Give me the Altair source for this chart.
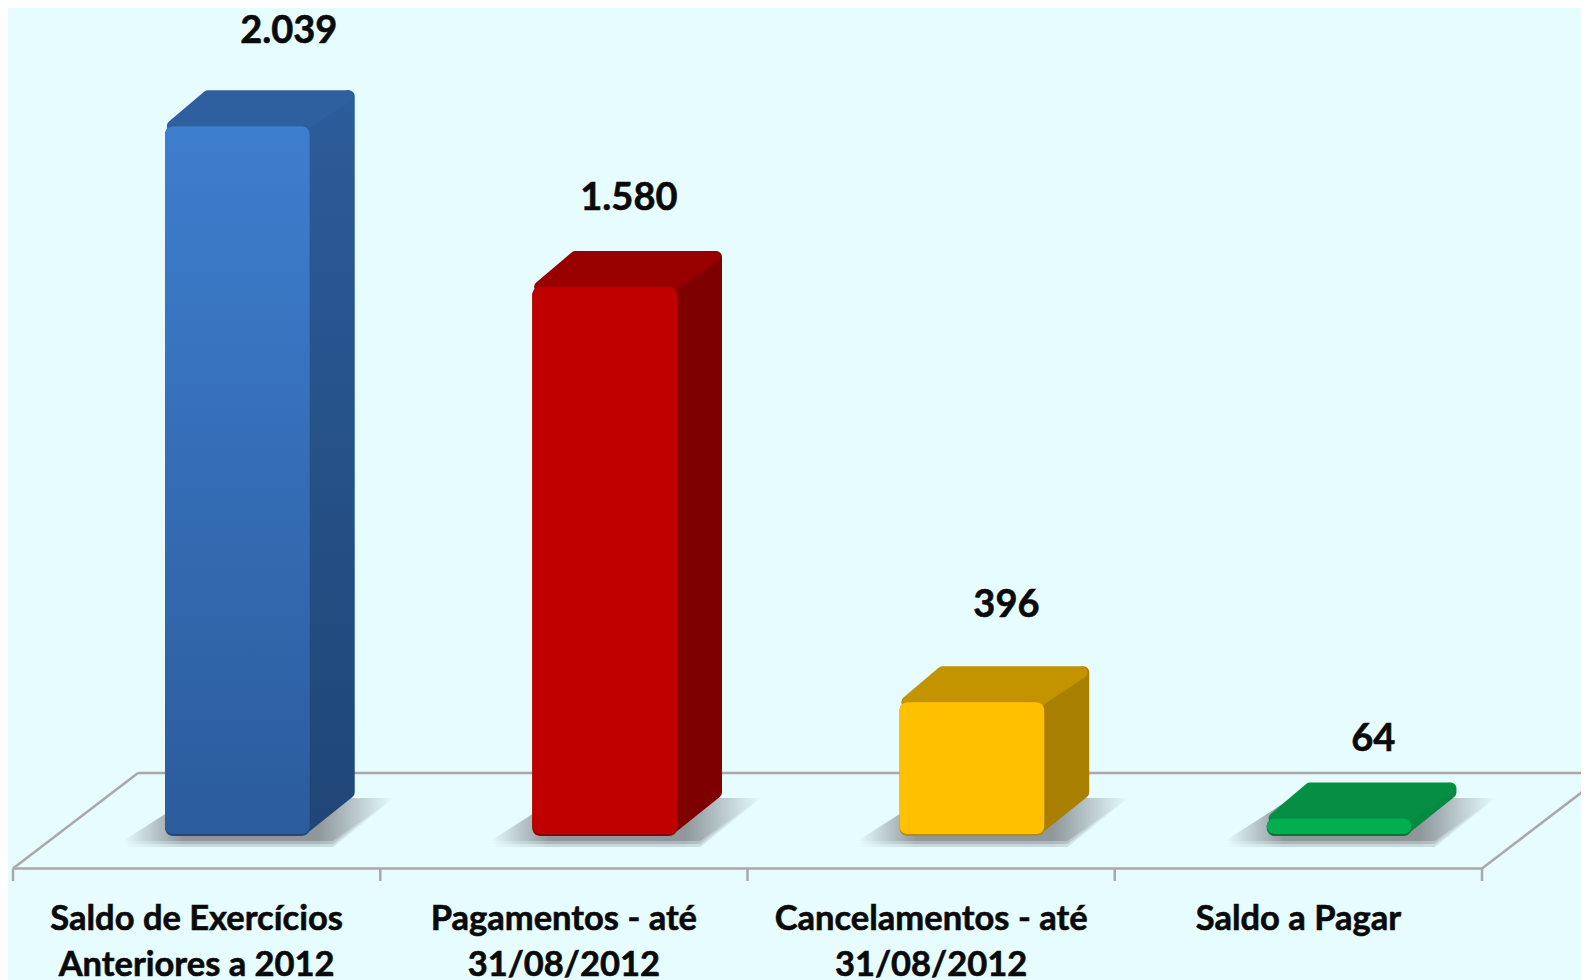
import altair as alt
import pandas as pd

# ---- data ----
categories = ["Saldo de Exercícios\nAnteriores a 2012", "Pagamentos - até\n31/08/2012",
              "Cancelamentos - até\n31/08/2012", "Saldo a Pagar"]
values = [2039, 1580, 396, 64]
value_labels = ["2.039", "1.580", "396", "64"]

# ---- styling ----
BG = "#E6FCFF"
FONT = "Lato"
def grad(c0, c1):
    return alt.LinearGradient(gradient="linear", x1=0, x2=0, y1=0, y2=1, stops=[
        alt.GradientStop(offset=0, color=c0), alt.GradientStop(offset=1, color=c1)])
front_cols = [grad("#3E7ECE", "#2B5C9C"), "#C00000", "#FFC000", "#03AE50"]
edge_cols = ["#1E4A80", "#8E0000", "#B98B00", "#05753A"]
side_cols = [grad("#2C5C9A", "#1F4676"), "#7F0000", "#A97F00", "#048A41"]
top_cols = ["#2E5F9F", "#980000", "#C49400", "#048F44"]

# ---- layout (full-image pixels) ----
PX_U = 367.25
K = 0.3506
Y0 = 841
def ux(p): return (p - 13) / PX_U
def uy(p): return (Y0 - p) / K

DX = 45 / PX_U
DY = 36 / K
BASE = uy(836)
XL, XR = 0.414, 0.808
R = 6
label_cx = [0.751, 1.677, 2.705, 3.704]
label_cy = [32, 199, 606, 740]

xs = alt.Scale(domain=[0, 4], range=[5, 1474], nice=False, zero=False)
ys = alt.Scale(domain=[0, 2039], range=[Y0 - 8, Y0 - 8 - K * 2039], nice=False, zero=False)
X = lambda f: alt.X(f, type="quantitative", scale=xs, axis=None)
Y = lambda f: alt.Y(f, type="quantitative", scale=ys, axis=None)

layers = []

# floor
FY, BY = uy(868.5), uy(773)
floor_segments = [
    (0, 4, FY, FY), (ux(138), ux(1607), BY, BY),
    (0, ux(138), FY, BY), (4, ux(1607), FY, BY),
] + [(t, t, FY, uy(881)) for t in range(5)]
floor = pd.DataFrame(floor_segments, columns=["x", "x2", "y", "y2"])
layers.append(alt.Chart(floor).mark_rule(color="#A9A9A9", strokeWidth=2.5).encode(
    x=X("x"), x2="x2", y=Y("y"), y2="y2"))

# shadows
shadow_fill = alt.LinearGradient(gradient="linear", x1=0, x2=1, y1=0, y2=0, stops=[
    alt.GradientStop(offset=0, color="#E6FCFF"),
    alt.GradientStop(offset=0.22, color="#8F979B"),
    alt.GradientStop(offset=0.72, color="#8F979B"),
    alt.GradientStop(offset=1, color="#E6FCFF")])
for i in range(4):
    xl = i + XL
    for front_y, op in ((847, 0.35), (844, 0.5), (841, 1.0)):
        sh = pd.DataFrame({
            "y": [uy(front_y), uy(798)],
            "a": [xl - 42 / PX_U, xl + 25 / PX_U],
            "b": [xl + 168 / PX_U, xl + 229 / PX_U]})
        layers.append(alt.Chart(sh).mark_area(orient="horizontal", color=shadow_fill, opacity=op).encode(
            y=Y("y"), x=X("a"), x2="b"))

# bars
for i, v in enumerate(values):
    xl, xr = i + XL, i + XR
    inset = R / PX_U
    inset_y = R / K
    side = pd.DataFrame({
        "x": [xr - inset, xr + DX - inset],
        "t": [v - inset_y, v + DY - inset_y],
        "b": [BASE + 1.3 * inset_y, BASE + DY + 1.3 * inset_y]})
    layers.append(alt.Chart(side).mark_area(
        color=side_cols[i], stroke=side_cols[i], strokeWidth=2 * R, strokeJoin="round"
    ).encode(x=X("x"), y=Y("t"), y2="b"))
    top = pd.DataFrame({
        "y": [v, v + DY - inset_y],
        "a": [xl + 1.3 * inset, xl + DX - 0.3 * inset],
        "b": [xr - 1.3 * inset, xr + DX - 1.3 * inset]})
    layers.append(alt.Chart(top).mark_area(
        orient="horizontal", color=top_cols[i], stroke=top_cols[i], strokeWidth=2 * R, strokeJoin="round"
    ).encode(y=Y("y"), x=X("a"), x2="b"))
    edge = pd.DataFrame({"x": [xl], "x2": [xr], "y": [v], "y2": [BASE]})
    layers.append(alt.Chart(edge).mark_rect(color=edge_cols[i], cornerRadius=8).encode(
        x=X("x"), x2="x2", y=Y("y"), y2="y2"))
    front = pd.DataFrame({"x": [xl], "x2": [xr], "y": [v], "y2": [BASE + 2 / K]})
    layers.append(alt.Chart(front).mark_rect(color=front_cols[i], cornerRadius=8).encode(
        x=X("x"), x2="x2", y=Y("y"), y2="y2"))

# value labels
vals = pd.DataFrame({"x": label_cx, "y": [uy(p) for p in label_cy], "t": value_labels})
layers.append(alt.Chart(vals).mark_text(font=FONT, fontWeight="bold", fontSize=38, color="#0A0A0A",
                                        stroke="#0A0A0A", strokeWidth=0.6,
                                        align="center", baseline="middle").encode(
    x=X("x"), y=Y("y"), text="t"))

# category labels
cats = pd.DataFrame({"x": [i + 0.5 for i in range(4)], "y": [uy(920)] * 4, "t": categories})
layers.append(alt.Chart(cats).mark_text(font=FONT, fontWeight="bold", fontSize=34.5, color="#0A0A0A",
                                        stroke="#0A0A0A", strokeWidth=0.6,
                                        align="center", baseline="middle", lineBreak="\n", lineHeight=46).encode(
    x=X("x"), y=Y("y"), text="t"))

chart = alt.layer(*layers).properties(
    width=1573, height=972, background=BG, padding=0,
    autosize=alt.AutoSizeParams(type="none")
).configure_view(stroke=None)

chart.save("out.html", embed_options={"renderer": "svg", "actions": False})
